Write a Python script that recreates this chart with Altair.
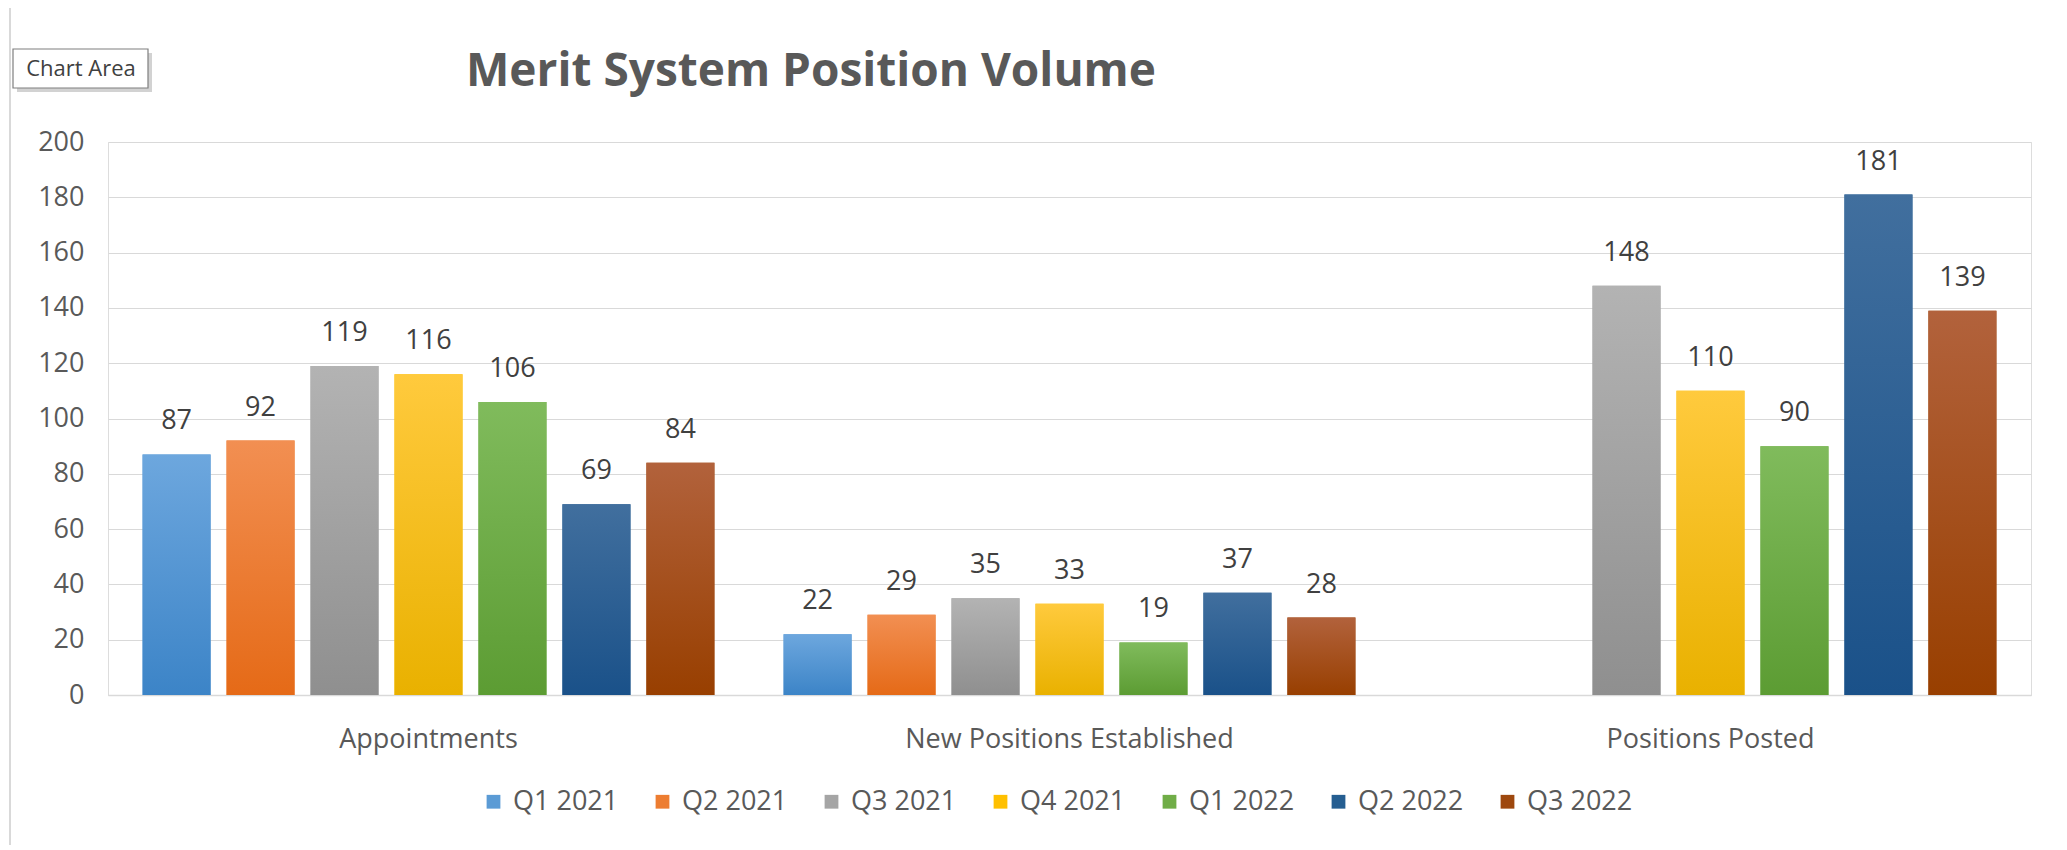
import altair as alt
import pandas as pd

categories = ["Appointments", "New Positions Established", "Positions Posted"]
quarters = ["Q1 2021", "Q2 2021", "Q3 2021", "Q4 2021", "Q1 2022", "Q2 2022", "Q3 2022"]
appointments = [87, 92, 119, 116, 106, 69, 84]
new_positions = [22, 29, 35, 33, 19, 37, 28]
positions_posted = [None, None, 148, 110, 90, 181, 139]
y_ticks = [0, 20, 40, 60, 80, 100, 120, 140, 160, 180, 200]
title_text = "Merit System Position Volume"
tooltip_text = "Chart Area"

# styles
flat_colors = ["#5B9BD5", "#ED7D31", "#A5A5A5", "#FFC000", "#70AD47", "#255E91", "#9E480E"]
grad_top = ["#6DA7DE", "#F28F52", "#B3B3B3", "#FFCA3D", "#80BB5C", "#416F9E", "#B2623C"]
grad_bottom = ["#3C84C7", "#E56A17", "#8F8F8F", "#E9B100", "#5C9C33", "#1A5189", "#983F00"]
FONT = "Open Sans"
TXT = "#595959"

rows = []
for cat, vals in zip(categories, [appointments, new_positions, positions_posted]):
    for q, v in zip(quarters, vals):
        if v is not None:
            rows.append({"category": cat, "quarter": q, "value": v})
df = pd.DataFrame(rows)

x_enc = alt.X(
    "category:N",
    sort=categories,
    scale=alt.Scale(domain=categories, paddingInner=0.083, paddingOuter=0.0415),
    axis=alt.Axis(title=None, labelAngle=0, labelFontSize=27, labelColor=TXT,
                  labelFont=FONT, labelPadding=31, labelLimit=0, ticks=False,
                  domainColor="#D9D9D9", domainWidth=1.5),
)
xo_enc = alt.XOffset(
    "quarter:N",
    sort=quarters,
    scale=alt.Scale(domain=quarters, paddingInner=0.19, paddingOuter=0.095),
)
y_enc = alt.Y(
    "value:Q",
    scale=alt.Scale(domain=[0, 200], nice=False),
    axis=alt.Axis(title=None, values=y_ticks, ticks=False, domain=False,
                  gridColor="#D9D9D9", gridWidth=1.2, labelFontSize=27,
                  labelColor=TXT, labelFont=FONT, labelPadding=24),
)

base = alt.Chart(df)

flat = base.mark_bar().encode(
    x=x_enc, xOffset=xo_enc, y=y_enc,
    color=alt.Color(
        "quarter:N",
        scale=alt.Scale(domain=quarters, range=flat_colors),
        legend=alt.Legend(
            title=None, orient="none", legendX=372, legendY=646,
            direction="horizontal", symbolType="square", symbolSize=190,
            symbolStrokeWidth=0, labelFontSize=27, labelColor=TXT,
            labelFont=FONT, labelOffset=6, columnPadding=30,
        ),
    ),
)

grad_layers = []
for q, top, bot in zip(quarters, grad_top, grad_bottom):
    g = alt.Gradient(
        gradient="linear",
        stops=[alt.GradientStop(color=top, offset=0), alt.GradientStop(color=bot, offset=1)],
        x1=0, x2=0, y1=0, y2=1,
    )
    grad_layers.append(
        base.transform_filter(alt.datum.quarter == q)
        .mark_bar(fill=g)
        .encode(x=x_enc, xOffset=xo_enc, y=y_enc)
    )

labels = base.mark_text(
    dy=-25, baseline="alphabetic", fontSize=27, color="#404040", font=FONT
).encode(x=x_enc, xOffset=xo_enc, y=y_enc, text="value:Q")

ann = alt.Chart(pd.DataFrame({"t": [title_text]}))
title = ann.mark_text(
    align="left", baseline="alphabetic", fontSize=46, fontWeight="bold",
    color=TXT, font=FONT
).encode(x=alt.value(358), y=alt.value(-56), text="t:N")

frame = ann.mark_rect(fill="transparent", stroke="#D9D9D9", strokeWidth=2).encode(
    x=alt.value(-98), x2=alt.value(2100), y=alt.value(-136), y2=alt.value(900)
)

tip = alt.Chart(pd.DataFrame({"t": [tooltip_text]}))
tip_shadow = tip.mark_rect(fill="#BFBFBF", opacity=0.7).encode(
    x=alt.value(-91), x2=alt.value(44), y=alt.value(-89), y2=alt.value(-50)
)
tip_box = tip.mark_rect(fill="white", stroke="#7F7F7F", strokeWidth=1.2).encode(
    x=alt.value(-95), x2=alt.value(40), y=alt.value(-93), y2=alt.value(-54)
)
tip_text = tip.mark_text(fontSize=22, color="#404040", font=FONT).encode(
    x=alt.value(-27), y=alt.value(-73), text="t:N"
)

chart = alt.layer(
    frame, flat, *grad_layers, labels, title, tip_shadow, tip_box, tip_text
).properties(
    width=1923, height=553,
    autosize=alt.AutoSizeParams(type="none"),
    padding={"left": 100, "top": 134, "right": 20, "bottom": 150},
).configure_view(stroke=None).configure(background="white")

chart.save("out.html", embed_options={"renderer": "svg", "actions": False})
